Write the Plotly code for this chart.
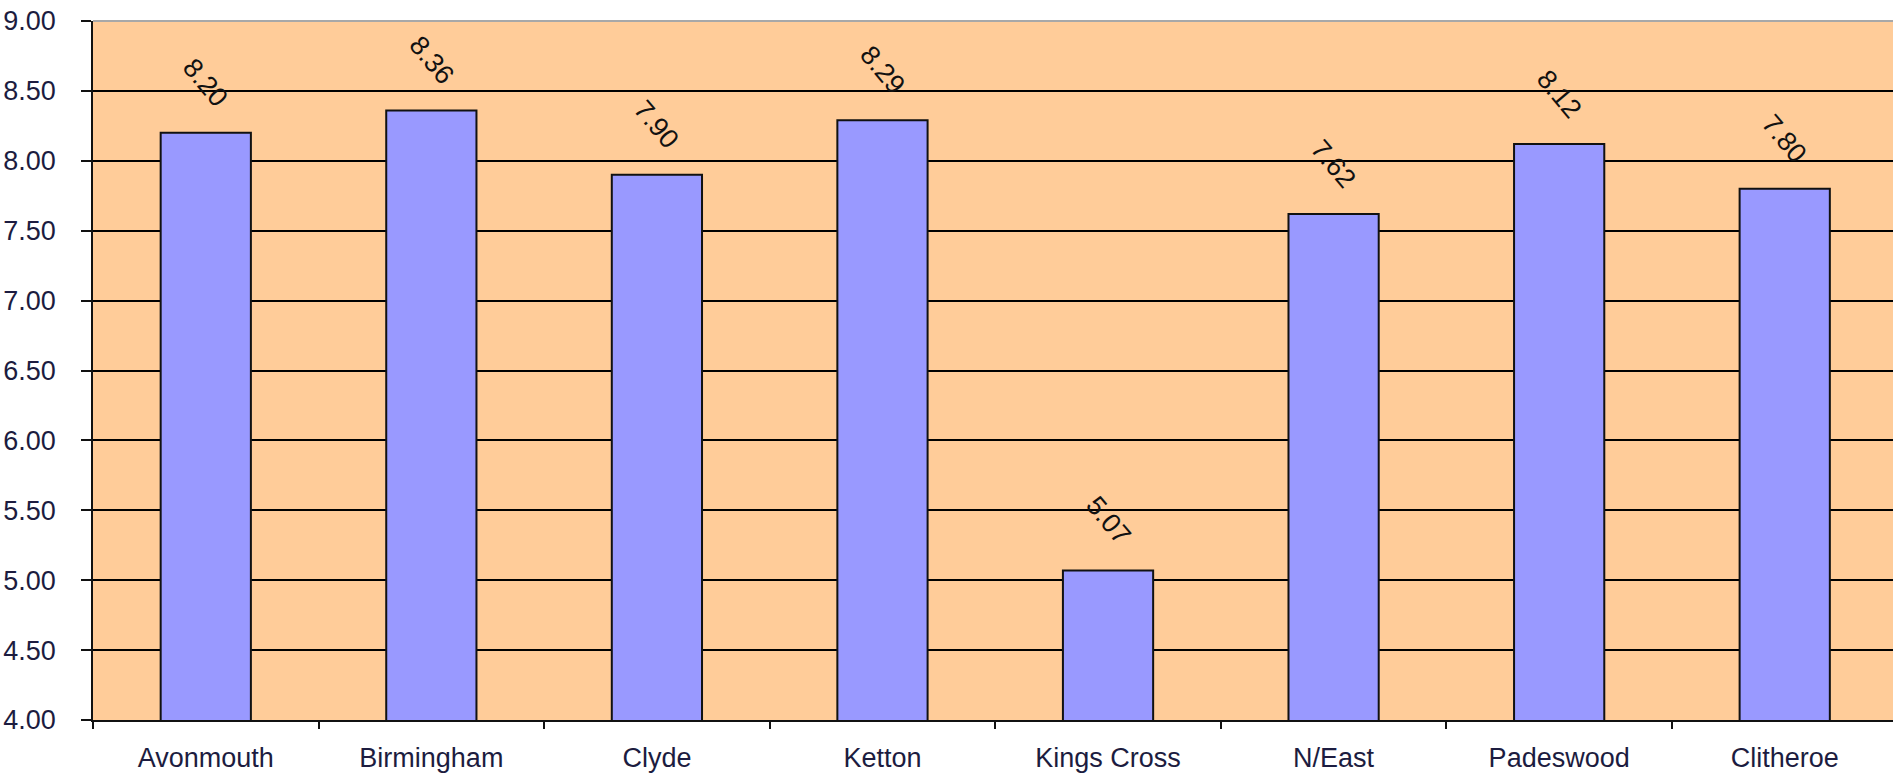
import plotly.graph_objects as go

categories = ["Avonmouth", "Birmingham", "Clyde", "Ketton", "Kings Cross",
              "N/East", "Padeswood", "Clitheroe"]
values = [8.20, 8.36, 7.90, 8.29, 5.07, 7.62, 8.12, 7.80]
value_labels = ["8.20", "8.36", "7.90", "8.29", "5.07", "7.62", "8.12", "7.80"]
y_ticks = [4.0, 4.5, 5.0, 5.5, 6.0, 6.5, 7.0, 7.5, 8.0, 8.5, 9.0]
y_tick_labels = ["4.00", "4.50", "5.00", "5.50", "6.00", "6.50", "7.00",
                 "7.50", "8.00", "8.50", "9.00"]

FONT = "Liberation Sans, Arial, sans-serif"
TXT = "#1c1c40"

fig = go.Figure()
fig.add_trace(go.Bar(
    x=categories, y=values, width=0.4,
    marker=dict(color="#9999FF", line=dict(color="#111111", width=2)),
    hoverinfo="skip",
))

for c, v, t in zip(categories, values, value_labels):
    fig.add_annotation(x=c, y=v, text=t, showarrow=False, yshift=50,
                       textangle=50, xanchor="center", yanchor="middle",
                       font=dict(family=FONT, size=27, color="#111111"))

fig.update_layout(
    width=1893, height=774,
    margin=dict(l=93, r=0, t=21, b=54),
    paper_bgcolor="white", plot_bgcolor="#FFCC99",
    showlegend=False,
    font=dict(family=FONT, size=27, color=TXT),
)
fig.update_xaxes(
    range=[-0.5, 7.48], tickson="boundaries", ticks="outside", ticklen=7,
    tickcolor="#111111", tickwidth=1.5, showline=True, linecolor="#111111",
    linewidth=1.5, showgrid=False, tickfont=dict(family=FONT, size=27, color=TXT),
    ticklabelstandoff=13,
)
fig.update_yaxes(
    range=[4, 9], tickvals=y_ticks, ticktext=y_tick_labels, ticks="outside",
    ticklen=10, tickcolor="#111111", tickwidth=1.5, showline=True,
    linecolor="#111111", linewidth=1.5, showgrid=True, gridcolor="#000000",
    gridwidth=1.5, zeroline=False, tickfont=dict(family=FONT, size=27, color=TXT),
    ticklabelstandoff=20,
)
# light gray top border of the plot area
fig.add_shape(type="line", xref="paper", yref="paper", x0=0, x1=1, y0=1, y1=1,
              line=dict(color="#a8a8a8", width=2), layer="above")

fig.write_html("out.html", config={"displayModeBar": False},
               post_script="document.body.style.margin='0';document.body.style.overflow='hidden';")
